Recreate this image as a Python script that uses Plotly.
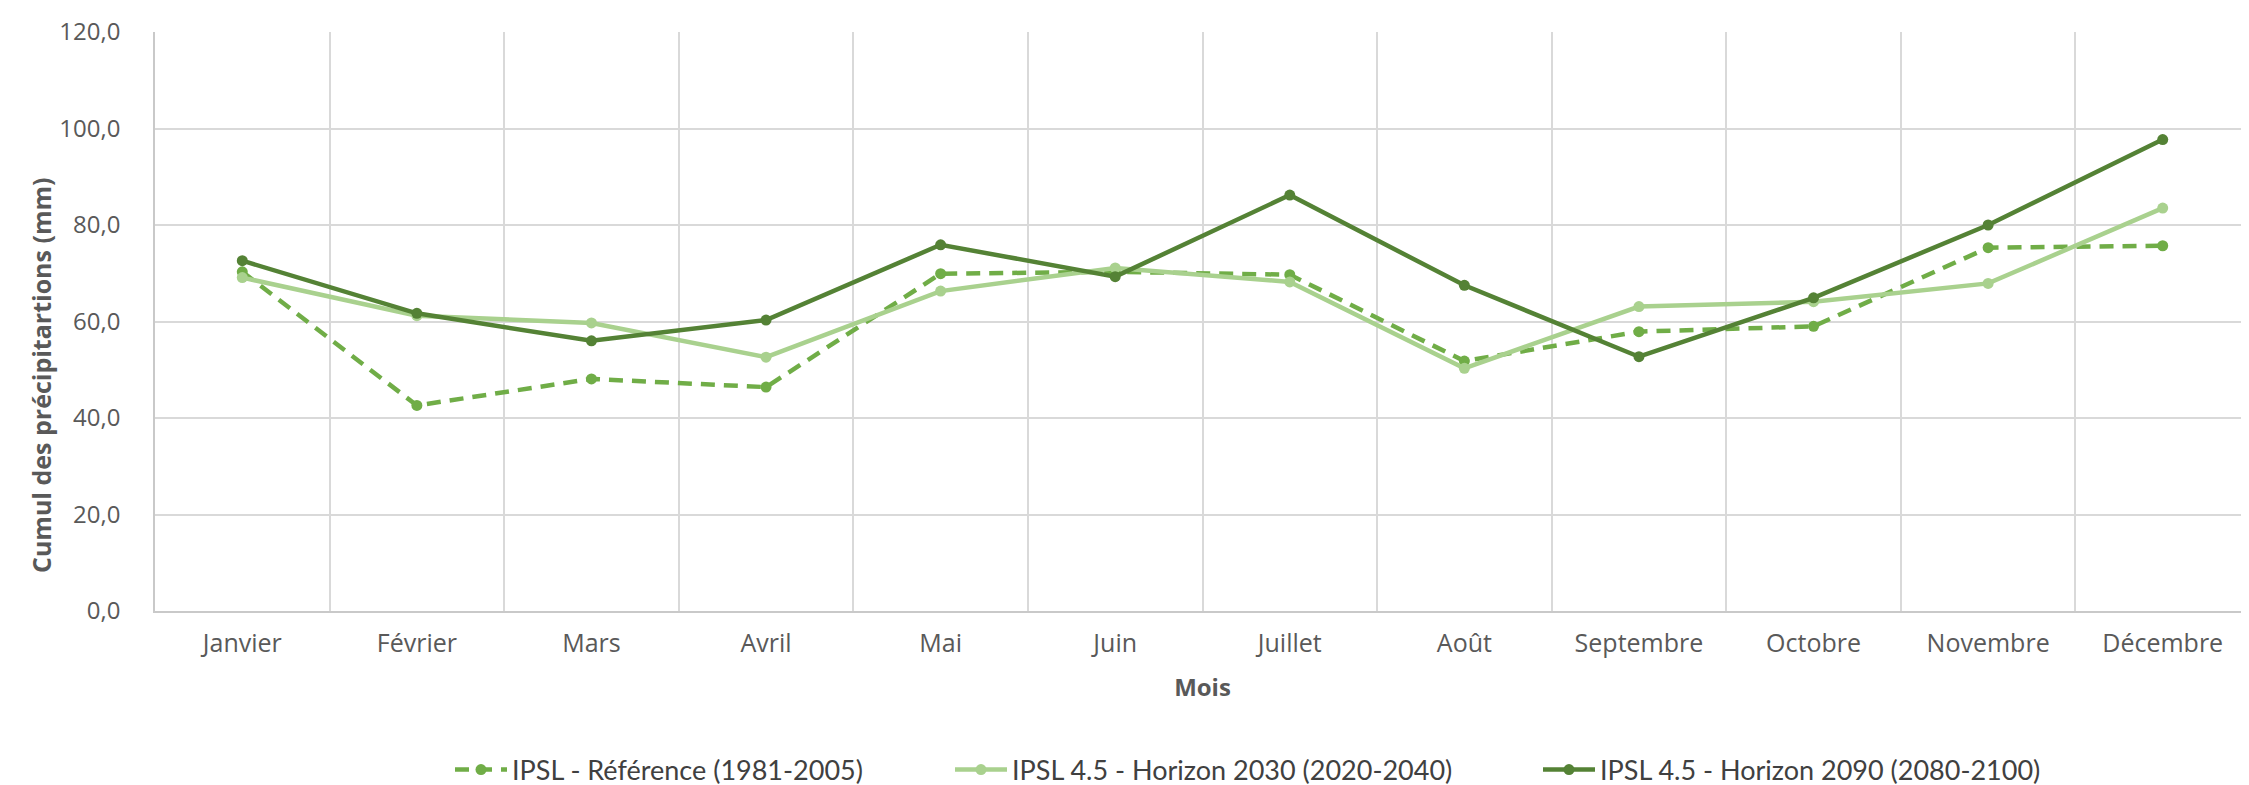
import plotly.graph_objects as go

months = ["Janvier", "Février", "Mars", "Avril", "Mai", "Juin", "Juillet",
          "Août", "Septembre", "Octobre", "Novembre", "Décembre"]
ref_1981_2005 = [70.3, 42.6, 48.1, 46.4, 69.9, 70.3, 69.7, 51.8, 57.9, 59.0, 75.3, 75.7]
h2030 = [69.1, 61.2, 59.7, 52.6, 66.3, 71.1, 68.2, 50.3, 63.1, 64.1, 67.9, 83.5]
h2090 = [72.6, 61.7, 56.0, 60.3, 75.9, 69.3, 86.2, 67.5, 52.7, 64.9, 80.0, 97.7]

names = ["IPSL - Référence (1981-2005)",
         "IPSL 4.5 - Horizon 2030 (2020-2040)",
         "IPSL 4.5 - Horizon 2090 (2080-2100)"]
colors = ["#70AD47", "#A9D18E", "#548235"]
dashes = ["14px,9px", "solid", "solid"]
series = [ref_1981_2005, h2030, h2090]
legend_ids = ["legend", "legend2", "legend3"]
legend_x = [442, 942, 1530]

W, H = 2249, 785
L, R, T, B = 147, 7, 24, 182
plot_w, plot_h = W - L - R, H - T - B

fig = go.Figure()
for name, vals, col, d, lid in zip(names, series, colors, dashes, legend_ids):
    fig.add_trace(go.Scatter(
        x=months, y=vals, name=name, mode="lines+markers",
        line=dict(color=col, width=4.5, dash=d),
        marker=dict(color=col, size=11),
        legend=lid,
    ))

legend_font = dict(family="Lato, Open Sans, sans-serif", size=27, color="#404040")
leg_common = dict(orientation="h", xref="container", yref="container",
                  xanchor="left", yanchor="middle", y=1 - 762 / H,
                  font=legend_font, itemwidth=52, bgcolor="rgba(0,0,0,0)")
layout_legends = {}
for lid, lx in zip(legend_ids, legend_x):
    layout_legends[lid] = dict(leg_common, x=lx / W)

fig.update_layout(
    width=W, height=H,
    paper_bgcolor="white", plot_bgcolor="white",
    separators=", ",
    margin=dict(l=L, r=R, t=T, b=B),
    font=dict(family="Open Sans, DejaVu Sans, sans-serif", color="#595959", size=26),
    showlegend=True,
    annotations=[dict(
        text="<b>Cumul des précipitartions (mm)</b>", textangle=-90,
        xref="paper", yref="paper", x=(33 - L) / plot_w, y=(H - B - 367) / plot_h,
        xanchor="center", yanchor="middle", showarrow=False,
        font=dict(family="Open Sans, sans-serif", size=25, color="#595959"),
    )],
    **layout_legends,
)
fig.update_xaxes(
    type="category", range=[-0.5, 11.5],
    tickson="boundaries", showgrid=True, gridcolor="#D9D9D9", gridwidth=1.5,
    showline=True, linecolor="#C9C9C9", linewidth=1.5, mirror=False,
    ticks="", ticklabelstandoff=9,
    tickfont=dict(size=25, color="#595959"),
    title=dict(text="<b>Mois</b>", font=dict(size=24, color="#595959"), standoff=21),
    zeroline=False,
)
fig.update_yaxes(
    range=[0, 120], dtick=20, tickformat=".1f",
    showgrid=True, gridcolor="#D9D9D9", gridwidth=1.5,
    showline=True, linecolor="#C9C9C9", linewidth=1.5,
    ticks="", ticklabelstandoff=28,
    tickfont=dict(size=24, color="#595959"),
    zeroline=False,
)

fig.write_html("out.html")
